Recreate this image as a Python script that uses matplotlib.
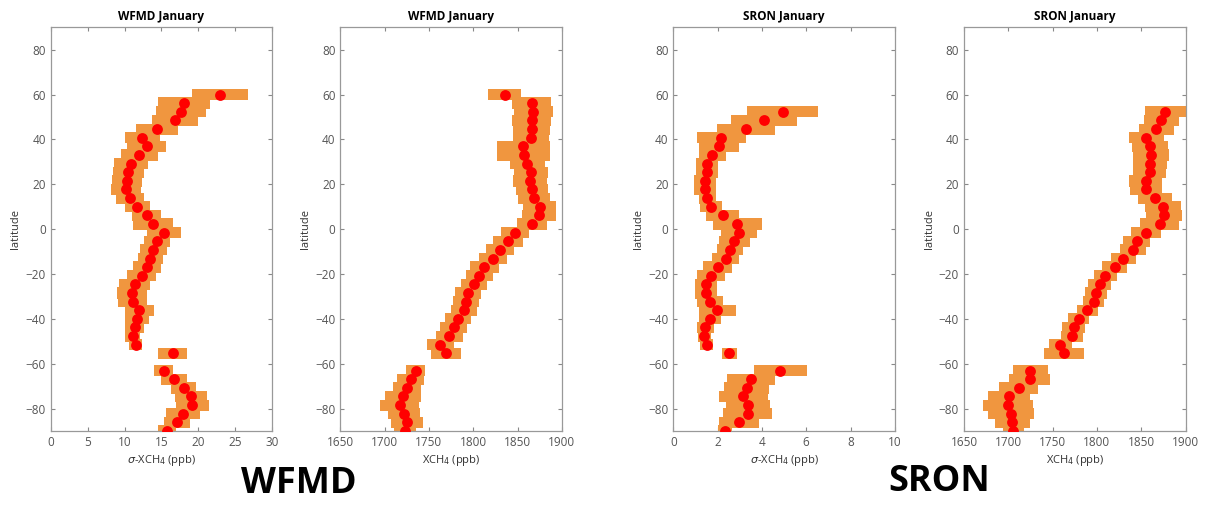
import numpy as np
import matplotlib
matplotlib.use("Agg")
import matplotlib.pyplot as plt

plt.rcParams["font.family"] = ["Open Sans", "DejaVu Sans"]

# latitude bins, north -> south
lat = [60.0, 56.2, 52.3, 48.5, 44.6, 40.8, 36.9, 33.1, 29.2, 25.4,
       21.5, 17.7, 13.8, 10.0, 6.2, 2.3, -1.5, -5.4, -9.2, -13.1,
       -16.9, -20.8, -24.6, -28.5, -32.3, -36.2, -40.0, -43.8, -47.7, -51.5,
       -55.4, -59.2, -63.1, -66.9, -70.8, -74.6, -78.5, -82.3, -86.2, -90.0]

nan = np.nan

wfmd_sigma = [22.9, 18.1, 17.7, 16.8, 14.4, 12.4, 13.0, 12.0, 10.9, 10.5,
              10.3, 10.2, 10.8, 11.7, 13.0, 13.8, 15.3, 14.4, 13.9, 13.5,
              13.0, 12.3, 11.4, 11.0, 11.1, 12.0, 11.7, 11.4, 11.1, 11.5,
              16.5, nan, 15.3, 16.7, 18.0, 19.0, 19.2, 17.9, 17.1, 15.8]
wfmd_sigma_err = [3.8, 3.5, 3.4, 3.1, 2.9, 2.4, 2.6, 2.5, 2.3, 2.1,
                  2.0, 2.0, 1.9, 1.7, 2.0, 2.7, 2.3, 1.8, 1.8, 1.7,
                  1.9, 2.0, 2.1, 2.0, 2.0, 2.0, 1.6, 1.3, 1.0, 0.9,
                  1.9, nan, 1.3, 1.8, 1.7, 2.2, 2.2, 2.3, 1.8, 1.2]

wfmd_xch4 = [1835.5, 1866, 1868, 1866, 1866, 1865, 1856.5, 1857, 1861, 1865,
             1864, 1866, 1869, 1875, 1874, 1866, 1847, 1839, 1830, 1822,
             1812.7, 1807, 1800.7, 1794, 1792, 1789.4, 1782.7, 1778, 1773, 1763,
             1769.6, nan, 1735, 1729.5, 1725, 1721, 1717, 1721.6, 1725, 1723]
wfmd_xch4_err = [19, 22, 22, 22, 21, 20, 30, 30, 20, 19,
                 19, 18, 18, 19, 19, 17, 16, 17, 16, 16,
                 16, 15, 15, 15, 15, 15, 15, 15, 15, 15,
                 17, nan, 11, 15, 16, 20, 22, 18, 18, 12]

sron_sigma = [nan, nan, 4.94, 4.10, 3.27, 2.17, 2.06, 1.76, 1.51, 1.51,
              1.43, 1.43, 1.54, 1.70, 2.23, 2.89, 2.97, 2.76, 2.56, 2.36,
              2.00, 1.70, 1.48, 1.48, 1.66, 1.99, 1.66, 1.45, 1.40, 1.51,
              2.53, nan, 4.83, 3.51, 3.31, 3.16, 3.36, 3.36, 2.98, 2.33]
sron_sigma_err = [nan, nan, 1.6, 1.5, 1.3, 1.1, 0.9, 0.6, 0.5, 0.5,
                  0.5, 0.5, 0.4, 0.5, 0.75, 1.1, 0.8, 0.7, 0.6, 0.6,
                  0.65, 0.65, 0.5, 0.5, 0.6, 0.85, 0.5, 0.4, 0.3, 0.3,
                  0.35, nan, 1.2, 1.1, 1.0, 1.1, 1.0, 1.1, 0.9, 0.3]

sron_xch4 = [nan, nan, 1877, 1872.6, 1867, 1855.7, 1860, 1861, 1860, 1859.5,
             1855, 1855.7, 1865.5, 1874.5, 1875.6, 1871, 1855.7, 1845, 1840.7, 1830,
             1820, 1809.5, 1803, 1799, 1796.4, 1789, 1779.5, 1773.9, 1772, 1758.8,
             1763, nan, 1725, 1724, 1712, 1701, 1700, 1703, 1704.5, 1705.5]
sron_xch4_err = [nan, nan, 23, 20, 20, 20, 20, 20, 19, 19,
                 19, 18, 19, 20, 20, 22, 17, 15, 15, 14,
                 14, 13, 13, 12, 12, 12, 12, 13, 12, 13,
                 23, nan, 20, 23, 22, 24, 28, 26, 20, 12]

panels = [
    ("WFMD January", wfmd_sigma, wfmd_sigma_err, (0, 30), [0, 5, 10, 15, 20, 25, 30],
     r"$\sigma$-XCH$_4$ (ppb)"),
    ("WFMD January", wfmd_xch4, wfmd_xch4_err, (1650, 1900),
     [1650, 1700, 1750, 1800, 1850, 1900], "XCH$_4$ (ppb)"),
    ("SRON January", sron_sigma, sron_sigma_err, (0, 10), [0, 2, 4, 6, 8, 10],
     r"$\sigma$-XCH$_4$ (ppb)"),
    ("SRON January", sron_xch4, sron_xch4_err, (1650, 1900),
     [1650, 1700, 1750, 1800, 1850, 1900], "XCH$_4$ (ppb)"),
]

W, H = 1206, 507
lefts = [50.7, 340.3, 673.3, 964.0]
ax_w, top, bottom = 221.5, 27.3, 431.0

orange = "#F0963F"
grey = "#555555"

fig = plt.figure(figsize=(W / 100, H / 100), dpi=100)

for left, (title, vals, errs, xlim, xticks, xlab) in zip(lefts, panels):
    ax = fig.add_axes([left / W, 1 - bottom / H, ax_w / W, (bottom - top) / H])
    v = np.asarray(vals, dtype=float)
    e = np.asarray(errs, dtype=float)
    ok = ~np.isnan(v)
    la = np.asarray(lat)[ok]
    ax.barh(la, 2 * e[ok], left=v[ok] - e[ok], height=5.0,
            color=orange, edgecolor="none", zorder=2)
    ax.plot(v[ok], la, "o", color="#FF0000", ms=7.8, mec="none", zorder=3)
    ax.set_xlim(*xlim)
    ax.set_ylim(-90, 90)
    ax.set_xticks(xticks)
    ax.set_yticks([-80, -60, -40, -20, 0, 20, 40, 60, 80])
    ax.tick_params(direction="in", top=True, right=True, length=3,
                   width=0.8, color="#888888", labelcolor=grey, labelsize=8.5)
    for s in ax.spines.values():
        s.set_color("#999999")
        s.set_linewidth(0.9)
    ax.set_title(title, fontsize=8.5, fontweight="bold", pad=5)
    ax.set_ylabel("latitude", fontsize=8, color="#333333", labelpad=3)
    ax.set_xlabel(xlab, fontsize=8, color="#333333", labelpad=3)

fig.text(299 / W, 1 - 484 / H, "WFMD", fontsize=26, fontweight="bold",
         ha="center", va="center")
fig.text(939 / W, 1 - 482 / H, "SRON", fontsize=26, fontweight="bold",
         ha="center", va="center")

fig.savefig("out.png", dpi=100)
